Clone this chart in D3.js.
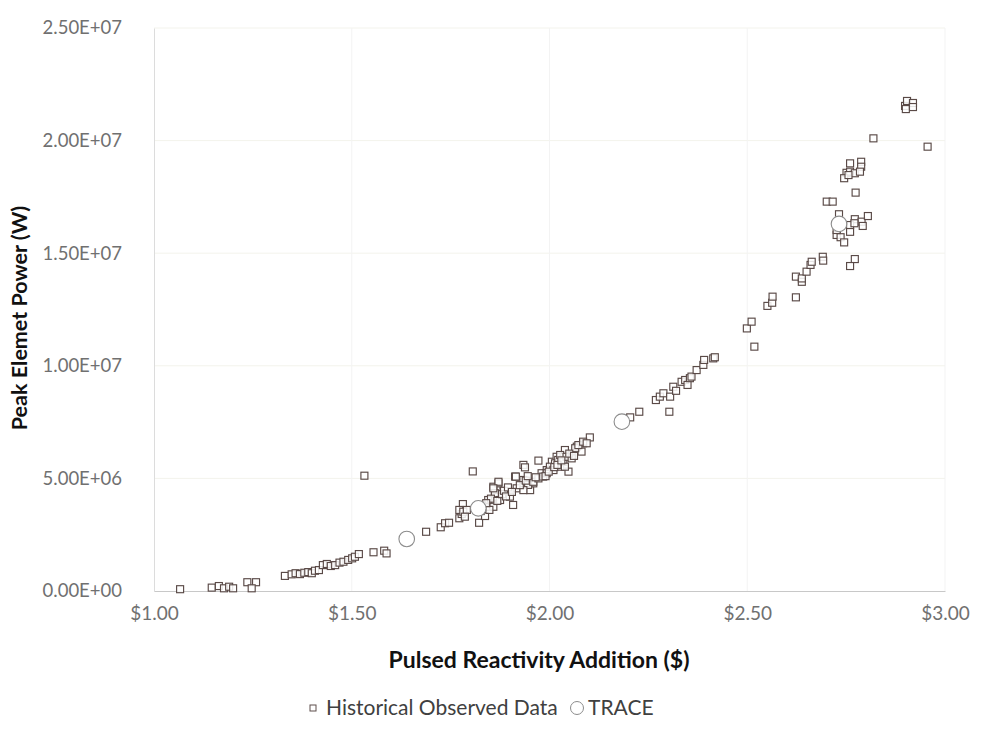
<!DOCTYPE html>
<html>
<head>
<meta charset="utf-8">
<script src="https://cdn.jsdelivr.net/npm/d3@7"></script>
<style>
  html, body { margin: 0; padding: 0; background: #fff; }
  svg { display: block; }
  text { font-family: Lato, "Open Sans", sans-serif; }
</style>
</head>
<body>
<svg id="chart" width="982" height="731"></svg>
<script>
// Historical pulse data: reactivity ($) and peak element power (MW)
const histReactivity = [
  1.066, 1.146, 1.164, 1.177, 1.190, 1.200, 1.236, 1.258, 1.247,
  1.331, 1.348, 1.358, 1.369, 1.380, 1.390, 1.399, 1.407, 1.417, 1.427,
  1.437, 1.447, 1.458, 1.469, 1.479, 1.491, 1.501, 1.508, 1.518,
  1.555, 1.582, 1.588, 1.532, 1.688, 1.725, 1.736, 1.746,
  1.772, 1.778, 1.781, 1.772, 1.782, 1.791, 1.786, 1.806, 1.822,
  1.837, 1.845, 1.854, 1.862, 1.866, 1.858, 1.845, 1.862, 1.871, 1.875,
  1.858, 1.900, 1.908, 1.917, 1.913, 1.934, 1.934, 1.951, 1.959, 1.972,
  1.980, 1.993, 2.006, 2.018, 2.027, 2.039, 2.048, 2.056, 2.069, 2.081,
  2.085, 2.102, 1.871, 1.858, 1.915, 1.946, 1.934, 1.959, 1.972, 1.984,
  1.993, 2.001, 2.014, 2.022, 2.027, 2.035, 2.043, 2.056, 2.065, 2.073,
  2.085, 2.094, 2.039, 2.010, 1.938,
  1.826, 1.830, 1.848, 1.852, 1.840, 1.868, 1.880, 1.885, 1.890, 1.895,
  1.905, 1.925, 1.940, 1.945, 1.965, 1.990, 1.998, 2.012, 2.020, 2.030,
  2.050, 2.062,
  2.204, 2.227, 2.303, 2.269, 2.279, 2.288, 2.305, 2.313, 2.320, 2.334,
  2.343, 2.349, 2.355, 2.359, 2.372, 2.389, 2.391, 2.414, 2.418,
  2.499, 2.511, 2.518, 2.551, 2.563, 2.564, 2.623, 2.623, 2.638, 2.638,
  2.650, 2.660, 2.663, 2.691, 2.692, 2.772, 2.760, 2.726, 2.736, 2.745,
  2.760, 2.726, 2.772, 2.789, 2.805, 2.792, 2.760, 2.771, 2.732, 2.701,
  2.716, 2.774, 2.760, 2.788, 2.788, 2.751, 2.760, 2.772, 2.785, 2.745,
  2.756, 2.819, 2.956, 2.899, 2.904, 2.919, 2.919, 2.901
];
const histPowerMW = [
  0.08, 0.15, 0.22, 0.12, 0.19, 0.12, 0.39, 0.39, 0.12,
  0.67, 0.74, 0.79, 0.75, 0.81, 0.84, 0.79, 0.90, 0.93, 1.15,
  1.20, 1.11, 1.15, 1.26, 1.30, 1.38, 1.45, 1.52, 1.64,
  1.72, 1.79, 1.67, 5.12, 2.63, 2.83, 3.01, 3.03,
  3.23, 3.42, 3.86, 3.60, 3.52, 3.60, 3.30, 5.31, 3.03,
  3.33, 3.74, 3.97, 4.19, 4.49, 4.63, 4.04, 4.34, 4.78, 4.04,
  3.74, 4.19, 3.82, 4.56, 5.08, 4.93, 5.60, 4.48, 4.78, 5.79,
  5.23, 5.37, 5.74, 5.96, 5.52, 6.26, 5.30, 6.04, 6.41, 6.19,
  6.56, 6.82, 4.85, 4.56, 5.08, 4.71, 4.48, 4.85, 5.00, 5.08,
  5.23, 5.52, 5.67, 5.82, 6.04, 5.74, 5.96, 5.89, 6.34, 6.48,
  6.63, 6.56, 5.52, 5.37, 5.49,
  3.55, 3.80, 3.60, 4.10, 3.90, 4.00, 4.30, 4.45, 4.20, 4.60,
  4.40, 4.70, 4.90, 5.10, 5.05, 5.10, 5.30, 5.50, 5.60, 5.80,
  6.10, 6.00,
  7.71, 7.96, 7.96, 8.48, 8.63, 8.78, 8.63, 9.07, 8.89, 9.29,
  9.37, 9.15, 9.45, 9.52, 9.81, 10.04, 10.26, 10.33, 10.38,
  11.66, 11.96, 10.85, 12.66, 12.80, 13.07, 13.04, 13.96, 13.73, 13.88,
  14.18, 14.48, 14.62, 14.84, 14.67, 14.74, 14.43, 15.81, 15.71, 15.48,
  15.95, 16.03, 16.51, 16.40, 16.65, 16.21, 16.25, 16.33, 16.73, 17.29,
  17.29, 17.69, 18.99, 19.06, 18.84, 18.57, 18.62, 18.55, 18.62, 18.33,
  18.47, 20.10, 19.73, 21.54, 21.76, 21.67, 21.49, 21.40
];

// TRACE simulation results
const traceReactivity = [1.639, 1.820, 2.183, 2.732];
const tracePowerMW = [2.31, 3.67, 7.52, 16.30];

// Axis ticks
const xTicks = [1.0, 1.5, 2.0, 2.5, 3.0];
const yTicks = [0, 5e6, 1e7, 1.5e7, 2e7, 2.5e7];

const legendLabels = ["Historical Observed Data", "TRACE"];

const svg = d3.select("#chart");
const plot = { left: 154, right: 945, top: 28, bottom: 591 };

const x = d3.scaleLinear().domain([1, 3]).range([plot.left, plot.right]);
const y = d3.scaleLinear().domain([0, 2.5e7]).range([plot.bottom, plot.top]);

// spreadsheet-style scientific notation, e.g. 2.50E+07
function sciFormat(v) {
  if (v === 0) return "0.00E+00";
  const exp = Math.floor(Math.log10(Math.abs(v)));
  const mant = v / Math.pow(10, exp);
  return mant.toFixed(2) + "E+" + String(exp).padStart(2, "0");
}

svg.append("rect").attr("width", 982).attr("height", 731).attr("fill", "#fff");

// gridlines
const grid = svg.append("g");
grid.selectAll("line.h").data(yTicks.slice(1)).join("line")
  .attr("class", "h")
  .attr("x1", plot.left).attr("x2", plot.right)
  .attr("y1", d => y(d)).attr("y2", d => y(d))
  .attr("stroke", "#f3f3ec").attr("stroke-width", 1);
grid.selectAll("line.v").data(xTicks.slice(1)).join("line")
  .attr("class", "v")
  .attr("x1", d => x(d)).attr("x2", d => x(d))
  .attr("y1", plot.top).attr("y2", plot.bottom)
  .attr("stroke", "#f3f3f3").attr("stroke-width", 1);

// y axis
const yAxis = svg.append("g")
  .attr("transform", `translate(${plot.left},0)`)
  .call(d3.axisLeft(y).tickValues(yTicks).tickSize(0).tickPadding(32)
    .tickFormat(sciFormat));
yAxis.select(".domain").attr("stroke", "#dcdcdc");
yAxis.selectAll("text")
  .attr("fill", "#707070").style("font-size", "18.5px");

// x axis
const xAxis = svg.append("g")
  .attr("transform", `translate(0,${plot.bottom})`)
  .call(d3.axisBottom(x).tickValues(xTicks).tickSize(0).tickPadding(16)
    .tickFormat(d => "$" + d3.format(".2f")(d)));
xAxis.select(".domain").attr("stroke", "#c8c8c8");
xAxis.selectAll("text")
  .attr("fill", "#707070").style("font-size", "19px");

// axis titles
svg.append("text")
  .attr("x", 539).attr("y", 668)
  .attr("text-anchor", "middle")
  .style("font-size", "23px").style("font-weight", "bold")
  .attr("fill", "#111")
  .text("Pulsed Reactivity Addition ($)");

svg.append("text")
  .attr("transform", "translate(27,318) rotate(-90)")
  .attr("text-anchor", "middle")
  .style("font-size", "21.5px").style("font-weight", "bold")
  .attr("fill", "#111")
  .text("Peak Elemet Power (W)");

// historical points
const hist = histReactivity.map((r, i) => ({ r, p: histPowerMW[i] * 1e6 }));
const sq = 7;
svg.append("g").selectAll("rect").data(hist).join("rect")
  .attr("x", d => x(d.r) - sq / 2)
  .attr("y", d => y(d.p) - sq / 2)
  .attr("width", sq).attr("height", sq)
  .attr("fill", "#fff").attr("fill-opacity", 0.85)
  .attr("stroke", "#5a4a47").attr("stroke-width", 1.15);

// TRACE points
const trace = traceReactivity.map((r, i) => ({ r, p: tracePowerMW[i] * 1e6 }));
svg.append("g").selectAll("circle").data(trace).join("circle")
  .attr("cx", d => x(d.r)).attr("cy", d => y(d.p))
  .attr("r", 7.8)
  .attr("fill", "#fff")
  .attr("stroke", "#8c8c8c").attr("stroke-width", 1.1);

// legend
const leg = svg.append("g");
leg.append("rect")
  .attr("x", 310).attr("y", 705).attr("width", 6).attr("height", 6)
  .attr("fill", "#fff").attr("stroke", "#5e4f4c").attr("stroke-width", 1);
leg.append("text")
  .attr("x", 326).attr("y", 715)
  .style("font-size", "21px").attr("fill", "#404040")
  .text(legendLabels[0]);
leg.append("circle")
  .attr("cx", 577).attr("cy", 708).attr("r", 6.5)
  .attr("fill", "#fff").attr("stroke", "#8c8c8c").attr("stroke-width", 1);
leg.append("text")
  .attr("x", 588).attr("y", 715)
  .style("font-size", "21px").attr("fill", "#404040")
  .text(legendLabels[1]);
</script>
</body>
</html>
